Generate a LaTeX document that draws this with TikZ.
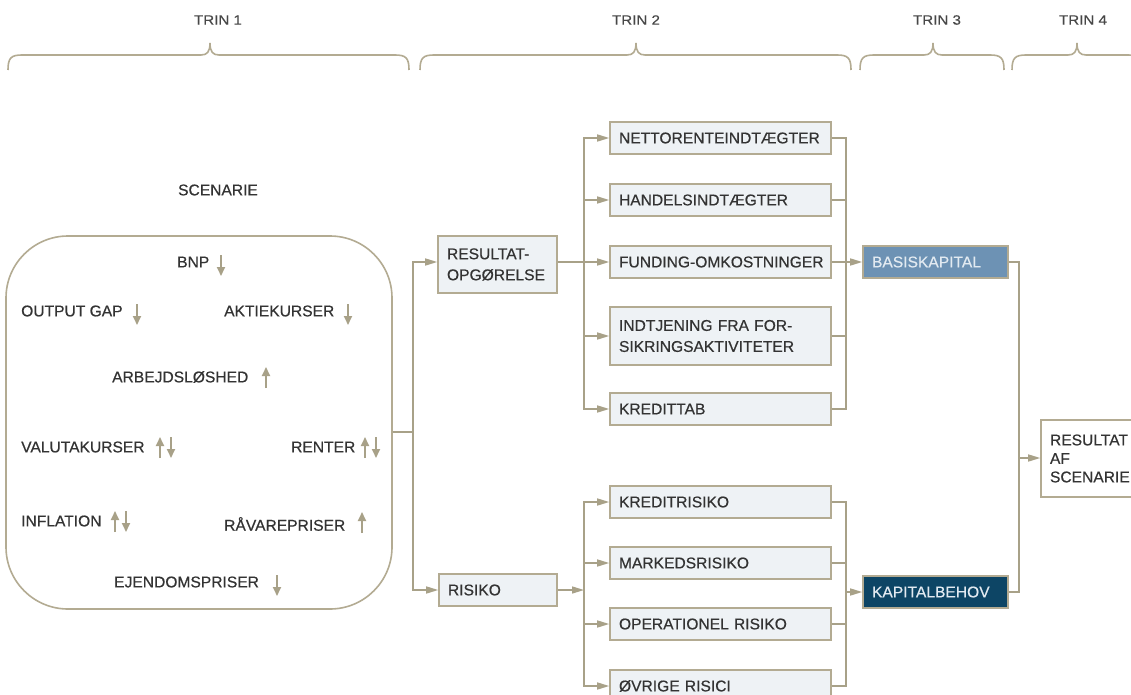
\documentclass[tikz,border=0pt]{standalone}
\usepackage{fontspec}
\setmainfont{Liberation Sans}[FakeBold=0.5]
\newfontfamily\lblfont{Liberation Sans}[FakeStretch=1.12,FakeBold=0.4]
\usetikzlibrary{arrows.meta,calc}
\definecolor{linetan}{HTML}{A8A188}
\definecolor{boxline}{HTML}{B3AB92}
\definecolor{boxfill}{HTML}{EEF2F5}
\definecolor{txt}{HTML}{333333}
\definecolor{basisblue}{HTML}{6D92B4}
\definecolor{navyblue}{HTML}{0D4565}
\definecolor{lighttxt}{HTML}{E2EAF1}
\begin{document}
\begin{tikzpicture}[x=1pt,y=-1pt,
  font=\fontsize{15.6}{21}\selectfont, text=txt,
  ln/.style={draw=linetan, line width=1.5pt},
  arr/.style={ln, -{Triangle[length=12pt,width=7pt]}},
  icon/.style={draw=linetan, line width=1.8pt, -{Triangle[length=9pt,width=8pt]}},
  brace/.style={draw=boxline, line width=1.6pt},
  box/.style={draw=boxline, line width=1.6pt, fill=boxfill, inner xsep=9pt, inner ysep=0pt, align=left, anchor=center},
  wide/.style={box, text width=203pt, minimum height=32pt},
  item/.style={anchor=west, inner sep=0pt},
  lbl/.style={inner sep=0pt, text=txt!90, font=\lblfont\fontsize{13.5}{16}\selectfont}
]
\useasboundingbox (0,0) rectangle (1131,695);
\fill[white] (0,0) rectangle (1131,695);
\clip (0,0) rectangle (1131,695);

% --- headings and braces
\node[lbl] (t1) at (218,20) {TRIN 1};
\node[lbl] (t2) at (636,20) {TRIN 2};
\node[lbl] (t3) at (937,20) {TRIN 3};
\node[lbl] (t4) at (1083,20) {TRIN 4};
\newcommand\mybrace[3]{%
  \draw[brace] (#1,70) .. controls (#1,58) and (#1+3,55) .. (#1+14,55)
    -- (#2-9,55) .. controls (#2-3,55) and (#2,52) .. (#2,43)
    .. controls (#2,52) and (#2+3,55) .. (#2+9,55)
    -- (#3-14,55) .. controls (#3-3,55) and (#3,58) .. (#3,70);}
\mybrace{8}{210}{409}
\mybrace{420}{636}{851}
\mybrace{860}{933}{1004}
\mybrace{1012}{1077}{1142}

% --- scenario
\node[inner sep=0pt] (scenlbl) at (218,190) {SCENARIE};
\node[draw=boxline, line width=1.6pt, rounded corners=62pt, minimum width=386pt, minimum height=373pt, inner sep=0pt] (scen) at (199,422.5) {};

\node[item] (bnp) at (177,262) {BNP};
\draw[icon] (221,255) -- (221,276);
\node[item] (ogap) at (21,311) {OUTPUT GAP};
\draw[icon] (137,304) -- (137,325);
\node[item] (aktie) at (224,311) {AKTIEKURSER};
\draw[icon] (348,304) -- (348,325);
\node[item] (arb) at (112,377) {ARBEJDSLØSHED};
\draw[icon] (266,388) -- (266,367);
\node[item] (valuta) at (21,447) {VALUTAKURSER};
\draw[icon] (160,458) -- (160,437);
\draw[icon] (171,437) -- (171,458);
\node[item] (renter) at (291,447) {RENTER};
\draw[icon] (365,458) -- (365,437);
\draw[icon] (376,437) -- (376,458);
\node[item] (infl) at (21,521) {INFLATION};
\draw[icon] (115,532) -- (115,511);
\draw[icon] (126,511) -- (126,532);
\node[item] (raa) at (224,524) {RÅVAREPRISER};
\draw[icon] (362,533) -- (362,512);
\node[item] (ejd) at (114,582) {EJENDOMSPRISER};
\draw[icon] (277,575) -- (277,596);

% --- trin 2 boxes
\node[box, text width=101pt, minimum height=57pt] (resultat) at (497.5,264.5) {RESULTAT-\\OPGØRELSE};
\node[box, text width=100pt, minimum height=32pt] (risiko) at (498,590) {RISIKO};

\node[wide] (n1) at (720.5,138) {NETTORENTEINDTÆGTER};
\node[wide] (n2) at (720.5,200) {HANDELSINDTÆGTER};
\node[wide] (n3) at (720.5,262) {\mbox{FUNDING-OMKOSTNINGER}};
\node[wide, minimum height=58pt] (n4) at (720.5,336) {INDTJENING FRA FOR-\\SIKRINGSAKTIVITETER};
\node[wide] (n5) at (720.5,409) {KREDITTAB};

\node[wide] (r1) at (720.5,502) {KREDITRISIKO};
\node[wide] (r2) at (720.5,563) {MARKEDSRISIKO};
\node[wide] (r3) at (720.5,624) {OPERATIONEL RISIKO};
\node[wide] (r4) at (720.5,686) {ØVRIGE RISICI};

% --- trin 3 / 4 boxes
\node[box, fill=basisblue, text=lighttxt, text width=127pt, minimum height=32pt] (basis) at (935.5,262) {BASISKAPITAL};
\node[box, fill=navyblue, text=lighttxt, text width=127pt, minimum height=32pt] (kapital) at (935.5,592) {KAPITALBEHOV};
\node[box, fill=white, text width=82pt, minimum height=77pt, font=\fontsize{15.6}{18.5}\selectfont] (res) at (1091,458.5) {RESULTAT\\AF\\SCENARIE};

% --- connectors
\coordinate (j1) at (413,432);
\draw[ln] (scen.east |- j1) -- (j1);
\draw[arr] (j1) |- (resultat.west |- n3);
\draw[arr] (j1) |- (risiko.west);

\coordinate (b1) at (584,262);
\draw[arr] (resultat.east |- n3) -- (n3.west);
\foreach \n in {n1,n2,n4,n5} \draw[arr] (b1) |- (\n.west);

\coordinate (c1) at (846,262);
\foreach \n in {n1,n2,n3,n4,n5} \draw[ln] (\n.east) -| (c1);
\draw[arr] (c1) -- (basis.west);

\coordinate (b2) at (584,590);
\draw[arr] (risiko.east) -- (b2);
\foreach \n in {r1,r2,r3,r4} \draw[arr] (b2) |- (\n.west);

\coordinate (c2) at (846,592);
\foreach \n in {r1,r2,r3,r4} \draw[ln] (\n.east) -| (c2);
\draw[arr] (c2) -- (kapital.west);

\coordinate (d) at (1019,458);
\draw[ln] (basis.east) -| (d);
\draw[ln] (kapital.east) -| (d);
\draw[arr] (d) -- (res.west |- d);
\end{tikzpicture}
\end{document}
